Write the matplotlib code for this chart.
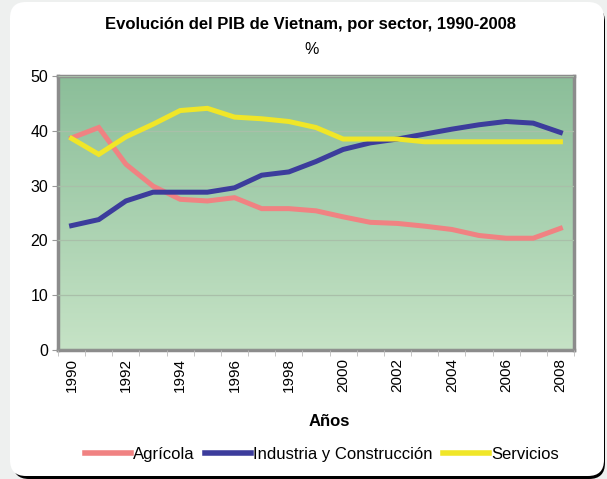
import numpy as np
import matplotlib.pyplot as plt
from matplotlib.patches import FancyBboxPatch
from matplotlib.lines import Line2D

# Datos (porcentaje del PIB por sector)
anios = list(range(1990, 2009))
agricola = [38.7, 40.6, 33.9, 29.9, 27.5, 27.2, 27.8, 25.8, 25.8, 25.4,
            24.3, 23.3, 23.1, 22.6, 22.0, 20.9, 20.4, 20.4, 22.2]
industria = [22.7, 23.8, 27.2, 28.8, 28.8, 28.8, 29.6, 31.9, 32.5, 34.4,
             36.6, 37.8, 38.5, 39.4, 40.3, 41.1, 41.7, 41.4, 39.7]
servicios = [38.6, 35.7, 38.9, 41.2, 43.7, 44.1, 42.5, 42.2, 41.7, 40.6,
             38.5, 38.5, 38.5, 38.0, 38.0, 38.0, 38.0, 38.0, 38.0]

series = ["Agrícola", "Industria y Construcción", "Servicios"]
colores = ["#f08282", "#3c3c9c", "#f0e628"]

plt.rcParams['font.family'] = ['Liberation Sans', 'DejaVu Sans']

fig = plt.figure(figsize=(6.07, 4.79), dpi=100)
fig.patch.set_facecolor("#eef0ef")

# tarjeta blanca con sombra
sombra = FancyBboxPatch((0.13, 0.0), 5.92, 4.73, boxstyle="round,pad=0,rounding_size=0.16",
                        transform=fig.dpi_scale_trans, facecolor="black", edgecolor="none",
                        zorder=-2)
tarjeta = FancyBboxPatch((0.10, 0.03), 5.94, 4.74, boxstyle="round,pad=0,rounding_size=0.16",
                         transform=fig.dpi_scale_trans, facecolor="white", edgecolor="none",
                         zorder=-1)
fig.patches.extend([sombra, tarjeta])

ax = fig.add_axes([0.0956, 0.2693, 0.850, 0.572])

# fondo degradado
grad = np.linspace(0, 1, 256).reshape(-1, 1)
top = np.array([0.545, 0.745, 0.600])
bot = np.array([0.776, 0.890, 0.776])
img = top + (bot - top) * grad[:, :, None] * np.ones((1, 1, 3))
ax.imshow(img, extent=[0, 1, 0, 1], transform=ax.transAxes, aspect='auto', zorder=0)

x = np.arange(len(anios))
for datos, nombre, c in zip([agricola, industria, servicios], series, colores):
    ax.plot(x, datos, color=c, lw=3.6, label=nombre, zorder=3, solid_joinstyle='miter')

ax.set_xlim(-0.5, len(anios) - 0.5)
ax.set_ylim(0, 50)
ax.set_yticks(range(0, 51, 10))
ax.grid(axis='y', color="#a9bfa9", lw=0.9, zorder=1)
ax.set_axisbelow(False)

ax.set_xticks(x[::2])
ax.set_xticklabels([str(a) for a in anios[::2]], rotation=90, fontsize=11)
ax.set_xticks(np.arange(-0.5, len(anios)), minor=True)
ax.tick_params(axis='x', which='major', length=0, pad=6)
ax.tick_params(axis='x', which='minor', length=4, color="#bbbbbb", direction='out')
ax.tick_params(axis='y', length=4, color="#999999", labelsize=11.5, pad=3)

for s in ax.spines.values():
    s.set_color("#8c8c8c")
    s.set_linewidth(2.5)

fig.text(0.512, 0.949, "Evolución del PIB de Vietnam, por sector, 1990-2008",
         ha='center', va='center', fontsize=12, fontweight='bold')
fig.text(0.514, 0.896, "%", ha='center', va='center', fontsize=11.5)
fig.text(0.543, 0.121, "Años", ha='center', va='center', fontsize=12, fontweight='bold')

handles = [Line2D([0], [0], color=c, lw=4) for c in colores]
fig.legend(handles, series, loc='center', bbox_to_anchor=(0.53, 0.052), ncol=3,
           frameon=False, fontsize=12, handlelength=2.8, handletextpad=0.1,
           columnspacing=0.6)

fig.savefig("out.png", dpi=100, facecolor=fig.get_facecolor())
